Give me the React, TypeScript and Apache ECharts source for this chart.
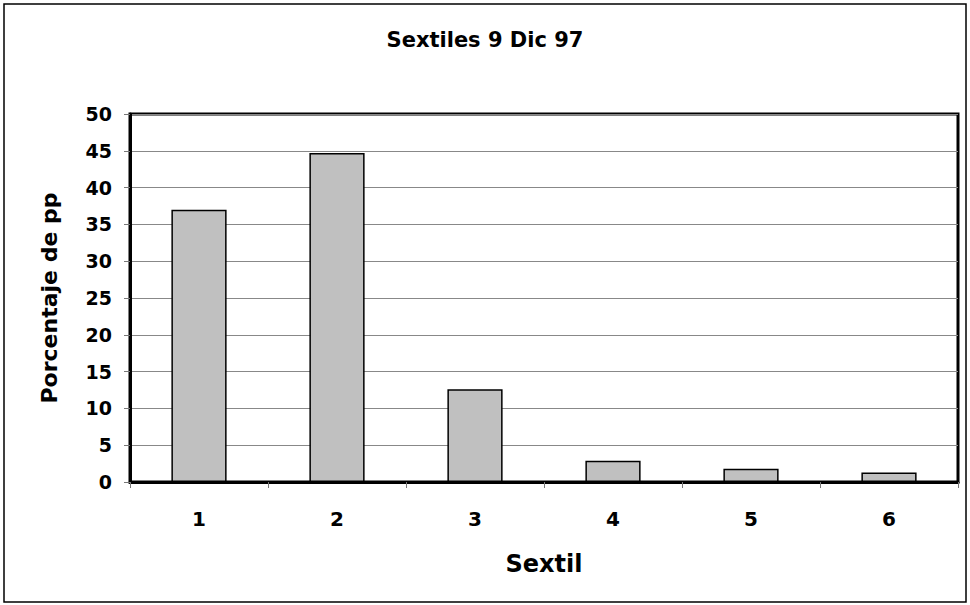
import React, { useEffect, useRef } from "react";
import * as echarts from "echarts";

const categories = ["1", "2", "3", "4", "5", "6"];
const values = [37, 44.7, 12.6, 2.9, 1.8, 1.3];
const titleText = "Sextiles 9 Dic 97";
const yName = "Porcentaje de pp";
const xName = "Sextil";

const FONT = "'DejaVu Sans', 'Liberation Sans', Arial, sans-serif";

export default function App() {
  const ref = useRef<HTMLDivElement>(null);
  useEffect(() => {
    if (!ref.current) return;
    const chart = echarts.init(ref.current, undefined, { renderer: "svg" });
    chart.setOption({
      animation: false,
      backgroundColor: "#ffffff",
      title: {
        text: titleText,
        left: "center",
        top: 24,
        textStyle: { fontFamily: FONT, fontSize: 21, fontWeight: "bold", color: "#000" },
      },
      graphic: [
        {
          type: "rect",
          shape: { x: 4, y: 4, width: 962, height: 598 },
          style: { fill: "none", stroke: "#000", lineWidth: 1.5 },
          silent: true,
        },
      ],
      grid: {
        left: 130,
        right: 12,
        top: 114,
        bottom: 123,
        show: true,
        borderColor: "#000",
        borderWidth: 3,
        backgroundColor: "#fff",
      },
      xAxis: {
        type: "category",
        data: categories,
        name: xName,
        nameLocation: "middle",
        nameGap: 70,
        nameTextStyle: { fontFamily: FONT, fontSize: 24, fontWeight: "bold", color: "#000" },
        axisLine: { show: true, lineStyle: { color: "#000", width: 3 } },
        axisTick: { show: true, length: 6, lineStyle: { color: "#777", width: 1 } },
        axisLabel: { margin: 27, fontFamily: FONT, fontSize: 20, fontWeight: "bold", color: "#000" },
      },
      yAxis: {
        type: "value",
        min: 0,
        max: 50,
        interval: 5,
        name: yName,
        nameLocation: "middle",
        nameGap: 70,
        nameRotate: 90,
        nameTextStyle: { fontFamily: FONT, fontSize: 22, fontWeight: "bold", color: "#000" },
        axisLine: { show: true, lineStyle: { color: "#000", width: 3 } },
        axisTick: { show: true, length: 6, lineStyle: { color: "#777", width: 1 } },
        axisLabel: { margin: 18, fontFamily: FONT, fontSize: 19, fontWeight: "bold", color: "#000" },
        splitLine: { show: true, lineStyle: { color: "#888", width: 1 } },
      },
      series: [
        {
          type: "bar",
          data: values,
          barWidth: "40%",
          itemStyle: { color: "#c0c0c0", borderColor: "#000", borderWidth: 1.5 },
        },
      ],
    });
    return () => chart.dispose();
  }, []);
  return (
    <div
      ref={ref}
      style={{ position: "fixed", left: 0, top: 0, width: 970, height: 605 }}
    />
  );
}
